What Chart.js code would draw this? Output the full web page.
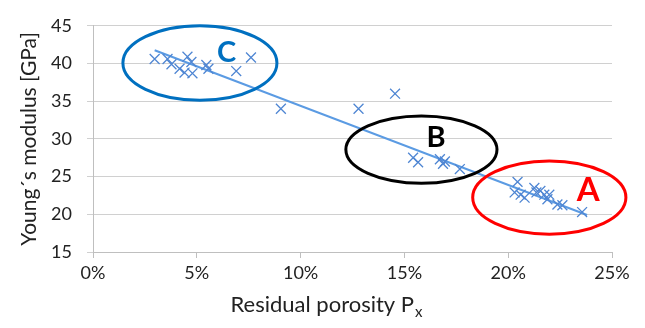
<!DOCTYPE html>
<html><head><meta charset="utf-8">
<script src="https://cdn.jsdelivr.net/npm/chart.js@4/dist/chart.umd.min.js"></script>
<style>html,body{margin:0;padding:0;background:#fff;}#wrap{width:645px;height:328px;}</style>
</head><body><div id="wrap"><canvas id="c" width="645" height="328"></canvas></div>
<script>
// Residual porosity (%) and Young's modulus (GPa)
const porosity = [2.97, 3.59, 3.78, 4.17, 4.41, 4.55, 4.74, 4.79, 5.46, 5.56, 6.9, 7.61,
  9.05, 12.79, 14.55,
  15.42, 15.66, 16.71, 16.86, 16.95, 17.67,
  20.45, 20.31, 20.6, 20.79, 21.26, 21.36, 21.55, 21.74, 21.98, 21.89, 22.37, 22.61, 23.56];
const modulus = [40.6, 40.6, 39.9, 39.3, 38.8, 40.9, 40.2, 38.7, 39.8, 39.3, 39.0, 40.8,
  34.0, 34.0, 36.0,
  27.5, 26.9, 27.3, 26.7, 27.0, 26.0,
  24.3, 22.9, 22.6, 22.2, 23.5, 22.9, 23.1, 22.6, 22.6, 22.0, 21.3, 21.2, 20.3];
// linear trend line end points
const trendPorosity = [2.97, 23.8];
const trendModulus = [41.75, 19.9];
const xTickValues = [0, 5, 10, 15, 20, 25];
const yTickValues = [15, 20, 25, 30, 35, 40, 45];
const groupNames = ['A', 'B', 'C'];

// annotation layout (data units), kept separate from the data
const groupShapes = [
  {cx: 21.98, cy: 22.22, rx: 3.69, ry: 4.85, color: '#ff0000', lx: 23.85, ly: 23.16, size: 33},
  {cx: 15.82, cy: 28.58, rx: 3.64, ry: 4.47, color: '#000000', lx: 16.52, ly: 30.19, size: 29},
  {cx: 5.15, cy: 40.06, rx: 3.71, ry: 4.94, color: '#0070c0', lx: 6.44, ly: 41.46, size: 29}
];

const FONT = "Lato, 'Open Sans', 'DejaVu Sans', sans-serif";

const groupsPlugin = {
  id: 'groups',
  afterDatasetsDraw(chart) {
    const {ctx, scales: {x, y}} = chart;
    ctx.save();
    groupShapes.forEach((g, i) => {
      const cx = x.getPixelForValue(g.cx), cy = y.getPixelForValue(g.cy);
      const rx = Math.abs(x.getPixelForValue(g.cx + g.rx) - cx);
      const ry = Math.abs(y.getPixelForValue(g.cy + g.ry) - cy);
      ctx.beginPath();
      ctx.ellipse(cx, cy, rx, ry, 0, 0, Math.PI * 2);
      ctx.lineWidth = 3;
      ctx.strokeStyle = g.color;
      ctx.stroke();
      ctx.fillStyle = g.color;
      ctx.font = 'bold ' + g.size + 'px ' + FONT;
      ctx.textAlign = 'center';
      ctx.textBaseline = 'middle';
      ctx.fillText(groupNames[i], x.getPixelForValue(g.lx), y.getPixelForValue(g.ly));
    });
    ctx.restore();
  },
  afterDraw(chart) {
    const {ctx} = chart;
    ctx.save();
    ctx.fillStyle = '#222';
    ctx.textBaseline = 'alphabetic';
    ctx.textAlign = 'left';
    const main = 'Residual porosity P';
    ctx.font = '22px ' + FONT;
    const w1 = ctx.measureText(main).width;
    ctx.font = '15px ' + FONT;
    const w2 = ctx.measureText('x').width;
    const cxTitle = 326;
    const start = cxTitle - (w1 + w2) / 2;
    ctx.font = '22px ' + FONT;
    ctx.fillText(main, start, 312);
    ctx.font = '15px ' + FONT;
    ctx.fillText('x', start + w1 + 1, 317);
    ctx.restore();
  }
};

new Chart(document.getElementById('c'), {
  type: 'scatter',
  data: {
    datasets: [
      {
        data: porosity.map((p, i) => ({x: p, y: modulus[i]})),
        pointStyle: 'crossRot',
        pointRadius: 7,
        borderColor: '#4f86d3',
        backgroundColor: '#4f86d3',
        pointBorderWidth: 1.3,
        showLine: false
      },
      {
        data: trendPorosity.map((p, i) => ({x: p, y: trendModulus[i]})),
        showLine: true,
        pointRadius: 0,
        borderColor: '#5b9be3',
        borderWidth: 2
      }
    ]
  },
  options: {
    responsive: false,
    devicePixelRatio: 1,
    animation: false,
    layout: {padding: {top: 15, right: 33, bottom: 0, left: 0}},
    plugins: {legend: {display: false}, tooltip: {enabled: false}},
    scales: {
      x: {
        type: 'linear', min: 0, max: 25,
        afterBuildTicks: s => { s.ticks = xTickValues.map(v => ({value: v})); },
        afterFit: s => { s.height = 76; },
        ticks: {callback: v => v + '%', font: {family: FONT, size: 18}, color: '#222', padding: 4, maxRotation: 0},
        grid: {drawOnChartArea: false, drawTicks: true, tickLength: 6, color: '#bfbfbf'},
        border: {color: '#bfbfbf'}
      },
      y: {
        type: 'linear', min: 15, max: 45,
        afterBuildTicks: s => { s.ticks = yTickValues.map(v => ({value: v})); },
        afterFit: s => { s.width = 93; },
        ticks: {font: {family: FONT, size: 18}, color: '#222', padding: 15},
        grid: {color: '#d0d0d0', tickLength: 6},
        border: {color: '#bfbfbf'},
        title: {display: true, text: 'Young´s modulus [GPa]', font: {family: FONT, size: 21}, color: '#222', padding: {top: 17, bottom: 0}}
      }
    }
  },
  plugins: [groupsPlugin]
});
</script>
</body></html>
